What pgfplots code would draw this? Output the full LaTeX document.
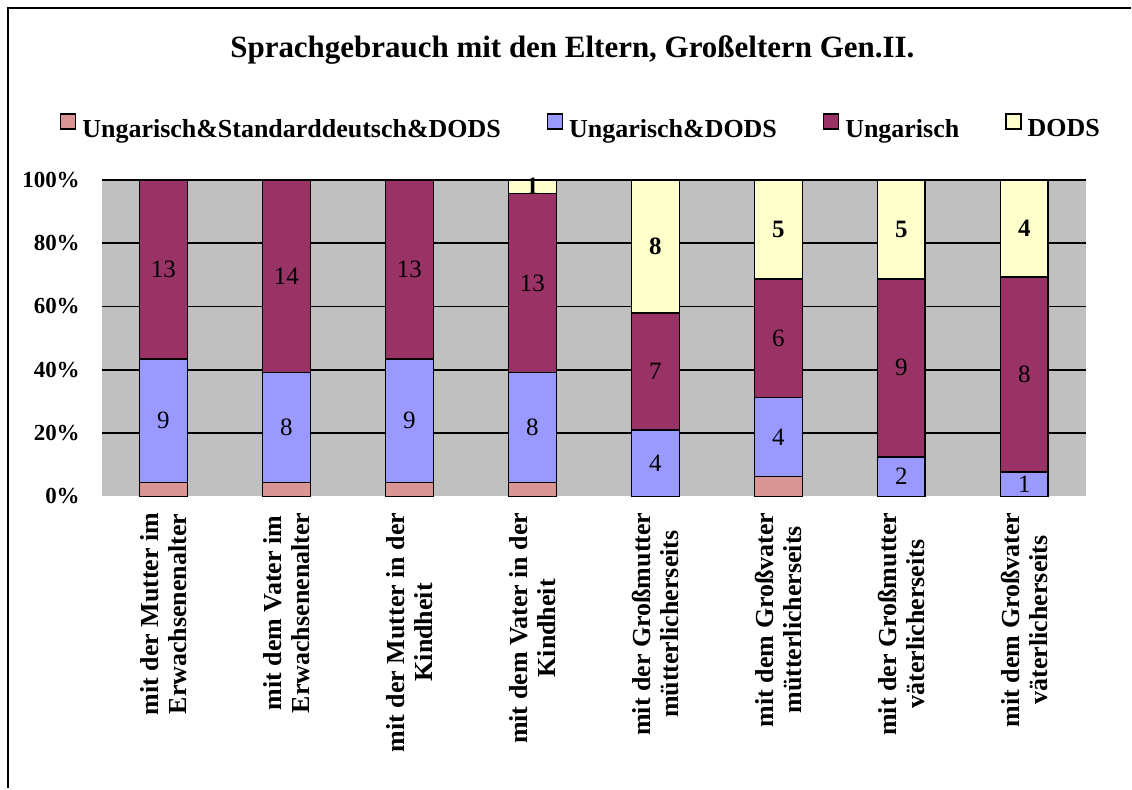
\documentclass[border=0pt]{standalone}
\usepackage{fontspec}
\setmainfont{Liberation Serif}
\usepackage{pgfplots}
\usepackage{pgfplotstable}
\pgfplotsset{compat=1.18}
\definecolor{cPink}{RGB}{217,150,148}
\definecolor{cBlue}{RGB}{153,153,255}
\definecolor{cMaroon}{RGB}{153,51,102}
\definecolor{cYellow}{RGB}{255,255,204}
\definecolor{cGray}{RGB}{192,192,192}
% counts per category: a = Ungarisch&Standarddeutsch&DODS, b = Ungarisch&DODS, c = Ungarisch, d = DODS
\pgfplotstableread{
x a b c d
0 1 9 13 0
1 1 8 14 0
2 1 9 13 0
3 1 8 13 1
4 0 4 7 8
5 1 4 6 5
6 0 2 9 5
7 0 1 8 4
}\data
\newcommand{\tot}{(\thisrow{a}+\thisrow{b}+\thisrow{c}+\thisrow{d})}
\pgfplotsset{sq/.style={legend image code/.code={\draw[draw=black,line width=1.4bp,fill=#1] (0bp,0bp) rectangle (15bp,15bp);}}}
\begin{document}
\begin{tikzpicture}
\path (0bp,0bp) rectangle (1132bp,789bp);
\draw[line width=2.5bp] (8bp,0bp) -- (8bp,781bp) -- (1132bp,781bp);
\node[font=\bfseries\fontsize{31bp}{34bp}\selectfont, anchor=base] at (573bp,731bp) {Sprachgebrauch mit den Eltern, Großeltern Gen.II.};
\begin{axis}[
  at={(102bp,292bp)}, anchor=south west,
  scale only axis, width=985bp, height=317bp,
  xmin=-0.5, xmax=7.5, ymin=0, ymax=100,
  ybar stacked, bar width=48bp,
  axis line style={draw=none},
  major tick length=0pt,
  axis background/.style={fill=cGray},
  xtick={0,...,7},
  xticklabels={{mit der Mutter im\\Erwachsenenalter},{mit dem Vater im\\Erwachsenenalter},{mit der Mutter in der\\Kindheit},{mit dem Vater in der\\Kindheit},{mit der Großmutter\\mütterlicherseits},{mit dem Großvater\\mütterlicherseits},{mit der Großmutter\\väterlicherseits},{mit dem Großvater\\väterlicherseits}},
  xticklabel style={rotate=90, anchor=east, align=center, inner sep=0pt, font=\bfseries\fontsize{26bp}{28bp}\selectfont},
  xticklabel shift=16bp,
  ytick={0,20,40,60,80,100},
  yticklabels={0\%,20\%,40\%,60\%,80\%,100\%},
  yticklabel style={inner sep=0pt, font=\bfseries\fontsize{23bp}{25bp}\selectfont},
  yticklabel shift=22bp,
  extra y ticks={20,40,60,80,100},
  extra y tick labels={,,,,},
  extra y tick style={grid=major, major grid style={black, line width=1.6bp}},
  legend columns=4,
  legend style={at={(-0.0426,1.1703)}, anchor=west, draw=none, fill=none, inner sep=0pt, outer sep=0pt,
    font=\bfseries\fontsize{26bp}{28bp}\selectfont,
    nodes={inner sep=0pt},
    /tikz/every odd column/.append style={column sep=6bp},
    /tikz/every even column/.append style={column sep=46bp}},
]
\addplot[fill=cPink, draw=black, line width=1.6bp, sq=cPink] table[x=x, y expr=100*\thisrow{a}/\tot] {\data};
\addlegendentry{Ungarisch\&Standarddeutsch\&DODS}
\addplot[fill=cBlue, draw=black, line width=1.6bp, sq=cBlue] table[x=x, y expr=100*\thisrow{b}/\tot] {\data};
\addlegendentry{Ungarisch\&DODS}
\addplot[fill=cMaroon, draw=black, line width=1.6bp, sq=cMaroon] table[x=x, y expr=100*\thisrow{c}/\tot] {\data};
\addlegendentry{Ungarisch}
\addplot[fill=cYellow, draw=black, line width=1.6bp, sq=cYellow] table[x=x, y expr=100*\thisrow{d}/\tot] {\data};
\addlegendentry{DODS}
\end{axis}
\begin{axis}[
  at={(102bp,292bp)}, anchor=south west,
  scale only axis, width=985bp, height=317bp,
  xmin=-0.5, xmax=7.5, ymin=0, ymax=100,
  hide axis,
  /pgf/number format/assume math mode=true,
  nodes near coords align=center,
  every node near coord/.append style={anchor=center, inner sep=0pt, font=\fontsize{25bp}{27bp}\selectfont},
]
\addplot[draw=none, nodes near coords, point meta=explicit] table[x=x, y expr=100*(\thisrow{a}+0.5*\thisrow{b})/\tot, meta=b] {\data};
\addplot[draw=none, nodes near coords, point meta=explicit] table[x=x, y expr=100*(\thisrow{a}+\thisrow{b}+0.5*\thisrow{c})/\tot, meta=c] {\data};
\addplot[draw=none, point meta=explicit,
  nodes near coords={\pgfmathfloatifflags{\pgfplotspointmeta}{0}{}{\pgfmathprintnumber{\pgfplotspointmeta}}},
  every node near coord/.append style={font=\bfseries\fontsize{25bp}{27bp}\selectfont}]
  table[x=x, y expr=100*(\thisrow{a}+\thisrow{b}+\thisrow{c}+0.5*\thisrow{d})/\tot, meta=d] {\data};
\end{axis}
\end{tikzpicture}
\end{document}
